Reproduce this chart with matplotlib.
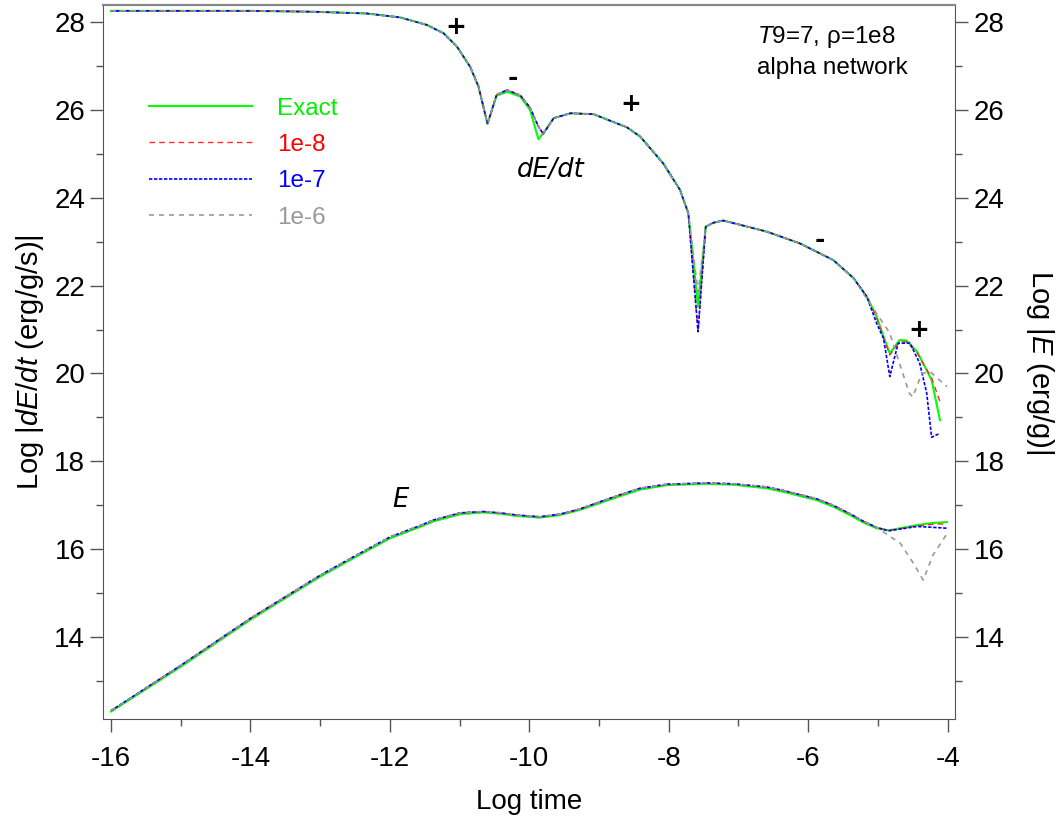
import numpy as np
import matplotlib.pyplot as plt
from matplotlib.ticker import MultipleLocator

plt.rcParams['font.family'] = ['Liberation Sans', 'DejaVu Sans']
plt.rcParams['axes.unicode_minus'] = False
plt.rcParams['mathtext.fontset'] = 'custom'
plt.rcParams['mathtext.rm'] = 'Liberation Sans'
plt.rcParams['mathtext.it'] = 'Liberation Sans:italic'

# dE/dt curve, shared head (log time)
t_up = [-16.0, -15.0, -14.0, -13.1, -12.33, -11.85, -11.47, -11.23, -11.04, -10.85,
        -10.73, -10.6, -10.47, -10.32, -10.13, -9.99, -9.87, -9.80, -9.65, -9.41,
        -9.08, -8.6, -8.41, -8.08, -7.84, -7.72, -7.58, -7.47, -7.36, -7.22,
        -7.07, -6.6, -6.12, -5.64, -5.35, -5.16]
up_exact = [28.25, 28.25, 28.25, 28.23, 28.19, 28.10, 27.93, 27.74, 27.44, 26.98,
            26.53, 25.68, 26.32, 26.41, 26.30, 26.0, 25.33, 25.47, 25.81, 25.92,
            25.90, 25.60, 25.39, 24.78, 24.18, 23.65, 21.52, 23.34, 23.43, 23.48,
            23.42, 23.23, 22.96, 22.58, 22.17, 21.75]
up_1e8 = [28.25, 28.25, 28.25, 28.23, 28.19, 28.10, 27.93, 27.74, 27.44, 26.98,
          26.53, 25.68, 26.34, 26.45, 26.33, 26.05, 25.62, 25.45, 25.81, 25.92,
          25.90, 25.60, 25.39, 24.78, 24.18, 23.65, 20.95, 23.34, 23.43, 23.48,
          23.42, 23.23, 22.96, 22.58, 22.17, 21.75]
up_1e7 = [28.25, 28.25, 28.25, 28.23, 28.19, 28.10, 27.93, 27.74, 27.44, 26.98,
          26.53, 25.68, 26.34, 26.45, 26.33, 26.05, 25.62, 25.45, 25.81, 25.92,
          25.90, 25.60, 25.39, 24.78, 24.18, 23.65, 20.95, 23.34, 23.43, 23.48,
          23.42, 23.23, 22.96, 22.58, 22.17, 21.75]
up_1e6 = [28.25, 28.25, 28.25, 28.23, 28.19, 28.10, 27.93, 27.74, 27.44, 26.98,
          26.53, 25.68, 26.34, 26.45, 26.33, 26.05, 25.62, 25.45, 25.81, 25.92,
          25.90, 25.60, 25.39, 24.78, 24.18, 23.65, 21.85, 23.34, 23.43, 23.48,
          23.42, 23.23, 22.96, 22.58, 22.17, 21.70]

# dE/dt tails, each series its own
tail_t_exact = [-5.02, -4.92, -4.83, -4.69, -4.59, -4.44, -4.35, -4.23, -4.11]
tail_exact = [21.30, 20.84, 20.46, 20.76, 20.75, 20.50, 20.23, 19.85, 18.94]
tail_t_1e8 = [-5.02, -4.92, -4.83, -4.69, -4.59, -4.44, -4.35, -4.23, -4.11]
tail_1e8 = [21.28, 20.82, 20.42, 20.72, 20.72, 20.48, 20.22, 19.90, 19.36]
tail_t_1e7 = [-5.02, -4.92, -4.83, -4.71, -4.54, -4.40, -4.30, -4.23, -4.11]
tail_1e7 = [21.15, 20.80, 19.93, 20.69, 20.69, 20.23, 19.55, 18.55, 18.64]
tail_t_1e6 = [-5.02, -4.83, -4.69, -4.55, -4.50, -4.37, -4.25, -4.01]
tail_1e6 = [21.37, 20.92, 20.23, 19.55, 19.47, 20.00, 20.04, 19.70]

# E curve, shared head
t_lo = [-16.0, -15.0, -14.0, -13.0, -12.5, -12.0, -11.57, -11.37, -10.99, -10.66,
        -10.42, -10.18, -9.85, -9.56, -9.27, -8.99, -8.70, -8.41, -8.03, -7.45,
        -7.07, -6.6, -6.36, -5.88, -5.64, -5.40, -5.21, -5.02]
lo_exact = [12.31, 13.33, 14.40, 15.38, 15.82, 16.25, 16.51, 16.64, 16.80, 16.84,
            16.81, 16.76, 16.72, 16.78, 16.90, 17.05, 17.21, 17.36, 17.46, 17.49,
            17.47, 17.39, 17.31, 17.12, 16.97, 16.78, 16.61, 16.48]
lo_other = [12.33, 13.36, 14.43, 15.41, 15.85, 16.28, 16.54, 16.67, 16.83, 16.86,
            16.83, 16.78, 16.74, 16.80, 16.92, 17.08, 17.24, 17.39, 17.48, 17.51,
            17.49, 17.42, 17.34, 17.15, 17.00, 16.81, 16.64, 16.50]

lo_tail_t = [-4.85, -4.68, -4.44, -4.21, -4.01]
lo_tail_exact = [16.43, 16.48, 16.55, 16.60, 16.62]
lo_tail_1e8 = [16.43, 16.47, 16.53, 16.57, 16.58]
lo_tail_1e7 = [16.42, 16.46, 16.52, 16.50, 16.48]
lo_tail_t_1e6 = [-4.68, -4.49, -4.35, -4.21, -3.99]
lo_tail_1e6 = [16.14, 15.68, 15.30, 15.87, 16.40]

labels = ['Exact', '1e-8', '1e-7', '1e-6']
colors = ['#00ff00', '#ff2a2a', '#0000ff', '#999999']
text_colors = ['#00ee00', '#ff0000', '#0000ff', '#999999']
styles = [dict(ls='-', lw=1.5),
          dict(ls=(0, (4, 3)), lw=1.0),
          dict(ls=(0, (2, 1)), lw=1.2),
          dict(ls=(0, (3, 3)), lw=1.2)]

fig = plt.figure(figsize=(10.58, 8.25), dpi=100)
ax = fig.add_axes([0.0977, 0.1285, 0.8049, 0.8658])

up_heads = [up_exact, up_1e8, up_1e7, up_1e6]
up_tails = [(tail_t_exact, tail_exact), (tail_t_1e8, tail_1e8),
            (tail_t_1e7, tail_1e7), (tail_t_1e6, tail_1e6)]
lo_heads = [lo_exact, lo_other, lo_other, lo_other]
lo_tails = [(lo_tail_t, lo_tail_exact), (lo_tail_t, lo_tail_1e8),
            (lo_tail_t, lo_tail_1e7), (lo_tail_t_1e6, lo_tail_1e6)]

handles = []
for i in range(4):
    h, = ax.plot(t_up + up_tails[i][0], up_heads[i] + up_tails[i][1],
                 color=colors[i], label=labels[i], zorder=3 + i, **styles[i])
    handles.append(h)
    ax.plot(t_lo + lo_tails[i][0], lo_heads[i] + lo_tails[i][1],
            color=colors[i], zorder=3 + i, **styles[i])

ax.set_xlim(-16.11, -3.895)
ax.set_ylim(12.14, 28.39)

spine_col = '#555555'
for s in ax.spines.values():
    s.set_color(spine_col)
ax.spines['top'].set_color('#888888')
ax.spines['top'].set_linewidth(1.6)

ax.xaxis.set_major_locator(MultipleLocator(2))
ax.xaxis.set_minor_locator(MultipleLocator(1))
ax.yaxis.set_major_locator(MultipleLocator(2))
ax.yaxis.set_minor_locator(MultipleLocator(1))
ax.tick_params(which='major', direction='out', length=9.5, width=1, color=spine_col,
               labelsize=20, pad=3.5, top=False)
ax.tick_params(which='minor', direction='out', length=5, width=1, color=spine_col, top=False)
ax.tick_params(axis='x', pad=10)

ax2 = ax.twinx()
ax2.set_ylim(ax.get_ylim())
ax2.yaxis.set_major_locator(MultipleLocator(2))
ax2.yaxis.set_minor_locator(MultipleLocator(1))
ax2.tick_params(which='major', direction='out', length=9.5, width=1, color=spine_col,
                labelsize=20, pad=4)
ax2.tick_params(which='minor', direction='out', length=5, width=1, color=spine_col)
for s in ax2.spines.values():
    s.set_visible(False)

ax.set_xlabel('Log time', fontsize=20, labelpad=12)
ax.set_ylabel(r'Log |$\mathit{dE/dt}$ (erg/g/s)|', fontsize=21, labelpad=6)
ax2.set_ylabel(r'Log |$\mathit{E}$ (erg/g)|', fontsize=21, rotation=270, va='bottom',
               labelpad=14)

# sign markers and curve labels
for x, y, s in [(-11.06, 27.89, '+'), (-10.23, 26.73, '-'), (-8.55, 26.13, '+'),
                (-5.83, 23.04, '-'), (-4.42, 21.0, '+')]:
    ax.text(x, y, s, fontsize=18, fontweight='bold', ha='center', va='center',
            family='DejaVu Sans')
ax.text(-9.69, 24.63, 'dE/dt', fontsize=18.5, style='italic', ha='center', va='center',
        family='DejaVu Sans')
ax.text(-11.85, 17.12, 'E', fontsize=18.5, style='italic', ha='center', va='center',
        family='DejaVu Sans')
ax.text(-6.73, 27.66, r'$\mathit{T}$9=7, ρ=1e8', fontsize=17.5, ha='left', va='center')
ax.text(-6.73, 26.95, 'alpha network', fontsize=17.5, ha='left', va='center')

leg = ax.legend(handles=handles, loc='upper left', bbox_to_anchor=(0.0537, 0.870),
                frameon=False, fontsize=17.5, handlelength=4.25, handletextpad=1.0,
                labelspacing=0.59, borderpad=0, borderaxespad=0)
for txt, c in zip(leg.get_texts(), text_colors):
    txt.set_color(c)

fig.savefig('out.png', dpi=100)
